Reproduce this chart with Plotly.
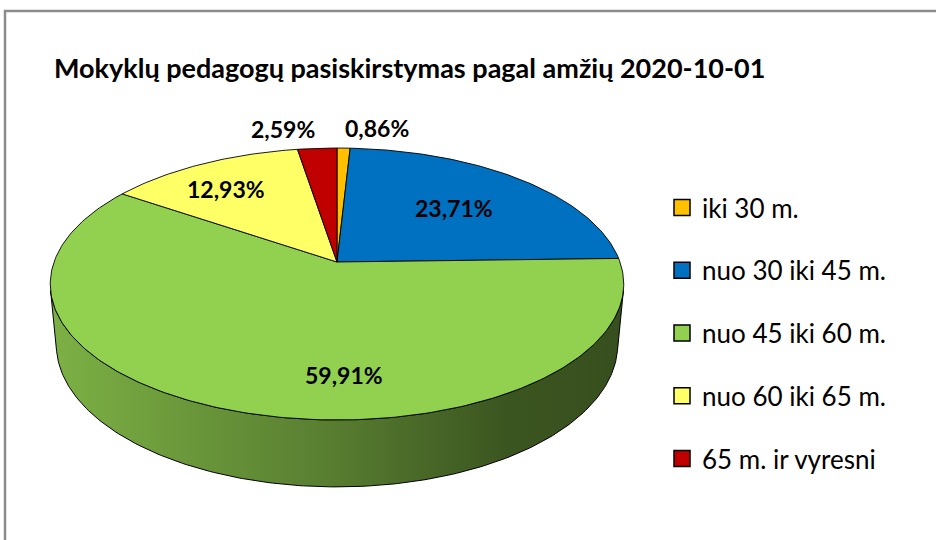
import numpy as np
import plotly.graph_objects as go

# ---- data ----
categories = ["iki 30 m.", "nuo 30 iki 45 m.", "nuo 45 iki 60 m.", "nuo 60 iki 65 m.", "65 m. ir vyresni"]
shares = [0.86, 23.71, 59.91, 12.93, 2.59]
value_labels = ["0,86%", "23,71%", "59,91%", "12,93%", "2,59%"]
colors = ["#FFC000", "#0070C0", "#92D050", "#FFFF66", "#C00000"]
title_text = "Mokyklų pedagogų pasiskirstymas pagal amžių 2020-10-01"

# label placement (radius fraction, angular shift in degrees)
label_r = [1.225, 0.62, 0.75, 0.74, 1.225]
label_shift = [6.4, 0.0, -18.0, -3.0, -6.1]

# ---- perspective projection of a 3D pie ----
ELEV = np.radians(27.9)
DIST = 5.46
FOCAL = 1545.0
CX, CY = 337.0, 262.0
THICK = 0.243
FONT = "Lato, 'Open Sans', sans-serif"


def project(t, r=1.0, z=0.0):
    t = np.asarray(t, dtype=float)
    X = r * np.sin(t)
    Y = r * np.cos(t)
    s, c = np.sin(ELEV), np.cos(ELEV)
    d = DIST + Y * c - z * s
    sx = X * FOCAL / d
    sy = (Y * s + z * c) * FOCAL / d
    return CX + sx, CY - sy


def shade(hexcol, f):
    h = hexcol.lstrip("#")
    r, g, b = (int(h[i:i + 2], 16) for i in (0, 2, 4))
    return "rgb(%d,%d,%d)" % (r * f, g * f, b * f)


total = float(sum(shares))
bounds = np.concatenate([[0.0], np.cumsum(shares) / total]) * 2 * np.pi

fig = go.Figure()

# side wall (visible front part only)
vis = np.arccos(-1.0 / (DIST * np.cos(ELEV)))
vis0, vis1 = vis, 2 * np.pi - vis
xl, _ = project(3 * np.pi / 2)
xr, _ = project(np.pi / 2)
for i, col in enumerate(colors):
    a0, a1 = max(bounds[i], vis0), min(bounds[i + 1], vis1)
    if a1 <= a0:
        continue
    tt = np.linspace(a0, a1, 200)
    xt, yt = project(tt, 1.0, 0.0)
    xb, yb = project(tt[::-1], 1.0, -THICK)
    xs = np.concatenate([xt, xb, xt[:1]])
    ys = np.concatenate([yt, yb, yt[:1]])
    fig.add_trace(go.Scatter(
        x=xs, y=ys, mode="lines", fill="toself",
        line=dict(color="black", width=1),
        fillgradient=dict(
            type="horizontal", start=xl, stop=xr,
            colorscale=[[0, shade(col, 0.85)], [0.5, shade(col, 0.6)],
                        [0.8, shade(col, 0.41)], [1, shade(col, 0.38)]]),
        hoverinfo="skip", showlegend=False))

# top face slices
for i, col in enumerate(colors):
    tt = np.linspace(bounds[i], bounds[i + 1], max(4, int(400 * shares[i] / total)))
    xa, ya = project(tt)
    xs = np.concatenate([[CX], xa, [CX]])
    ys = np.concatenate([[CY], ya, [CY]])
    fig.add_trace(go.Scatter(
        x=xs, y=ys, mode="lines", fill="toself", fillcolor=col,
        line=dict(color="black", width=0.9),
        hoverinfo="skip", showlegend=False))

# legend entries
for i, (cat, col) in enumerate(zip(categories, colors)):
    fig.add_trace(go.Scatter(
        x=[None], y=[None], mode="markers", name=cat, legendgroup=str(i),
        marker=dict(symbol="square", size=17, color=col,
                    line=dict(color="black", width=1.5))))

# value labels
for i, lab in enumerate(value_labels):
    mid = (bounds[i] + bounds[i + 1]) / 2 + np.radians(label_shift[i])
    lx, ly = project(mid, label_r[i])
    fig.add_annotation(x=float(lx), y=float(ly), xref="x", yref="y", text="<b>%s</b>" % lab,
                       showarrow=False, font=dict(family=FONT, size=23, color="black"))

fig.add_annotation(x=52 / 936, y=1 - 67 / 540, xref="paper", yref="paper",
                   xanchor="left", yanchor="middle", showarrow=False,
                   text="<b>%s</b>" % title_text,
                   font=dict(family=FONT, size=27, color="black"))

fig.add_shape(type="rect", xref="paper", yref="paper",
              x0=5 / 936, x1=1.02, y0=-0.05, y1=1 - 11 / 540,
              line=dict(color="#8c8c8c", width=2.5))

fig.update_layout(
    width=936, height=540,
    margin=dict(l=0, r=0, t=0, b=0),
    paper_bgcolor="white", plot_bgcolor="white",
    xaxis=dict(range=[0, 936], visible=False, fixedrange=True),
    yaxis=dict(range=[540, 0], visible=False, fixedrange=True),
    showlegend=True,
    legend=dict(x=662 / 936, y=1 - 184 / 540, xanchor="left", yanchor="top",
                font=dict(family=FONT, size=26, color="black"),
                tracegroupgap=26, bgcolor="rgba(0,0,0,0)"),
)

fig.write_html("out.html", config={"displayModeBar": False},
               post_script="document.body.style.margin='0';")
